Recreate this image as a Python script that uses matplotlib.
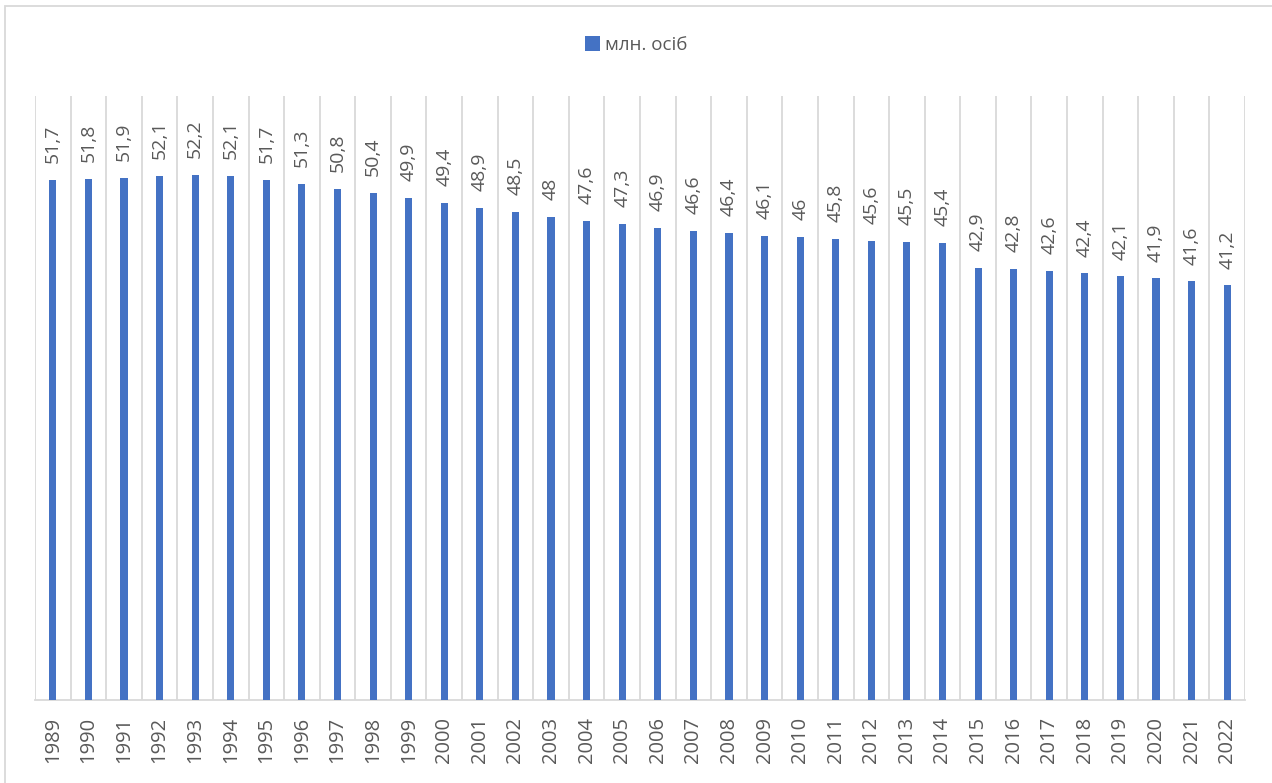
import matplotlib
matplotlib.use("Agg")
import matplotlib.pyplot as plt
from matplotlib.patches import Rectangle

years = [str(y) for y in range(1989, 2023)]
values = [51.7, 51.8, 51.9, 52.1, 52.2, 52.1, 51.7, 51.3, 50.8, 50.4,
          49.9, 49.4, 48.9, 48.5, 48.0, 47.6, 47.3, 46.9, 46.6, 46.4,
          46.1, 46.0, 45.8, 45.6, 45.5, 45.4, 42.9, 42.8, 42.6, 42.4,
          42.1, 41.9, 41.6, 41.2]
series_name = "млн. осіб"

plt.rcParams["font.family"] = ["Open Sans", "DejaVu Sans"]
bar_color = "#4472c4"
text_color = "#595959"
grid_color = "#d9d9d9"

W, H = 1272, 783
fig = plt.figure(figsize=(W / 100, H / 100), dpi=100)
ax = fig.add_axes([35 / W, (H - 700) / H, 1210 / W, 604 / H])

x = list(range(len(years)))
bars = ax.bar(x, values, width=0.2, color=bar_color, label=series_name, zorder=3)

ax.set_xlim(-0.5, len(years) - 0.5)
ax.set_ylim(0, 60)
for b in range(len(years) + 1):
    ax.axvline(b - 0.5, color=grid_color, lw=1.3, zorder=1)

for xi, v in zip(x, values):
    lbl = f"{v:g}".replace(".", ",")
    ax.annotate(lbl, (xi, v), xytext=(0, 12), textcoords="offset points",
                rotation=90, ha="center", va="bottom",
                fontsize=14, color=text_color)

ax.set_xticks(x)
ax.set_xticklabels(years, rotation=90, fontsize=14.5, color=text_color)
ax.tick_params(axis="x", length=0, pad=12)
ax.set_yticks([])
for s in ["top", "left", "right"]:
    ax.spines[s].set_visible(False)
ax.spines["bottom"].set_color(grid_color)
ax.spines["bottom"].set_linewidth(1.3)

fig.legend(handles=[bars], labels=[series_name], loc="center",
           bbox_to_anchor=(0.5, 1 - 45 / H), frameon=False, fontsize=13.5,
           handlelength=0.8, handleheight=0.8, handletextpad=0.3,
           labelcolor=text_color)

fig.patches.append(Rectangle((5 / W, -0.05), 1.1, 1 - 6 / H + 0.05,
                             transform=fig.transFigure, fill=False,
                             edgecolor=grid_color, lw=1.3))

fig.savefig("out.png", dpi=100)
